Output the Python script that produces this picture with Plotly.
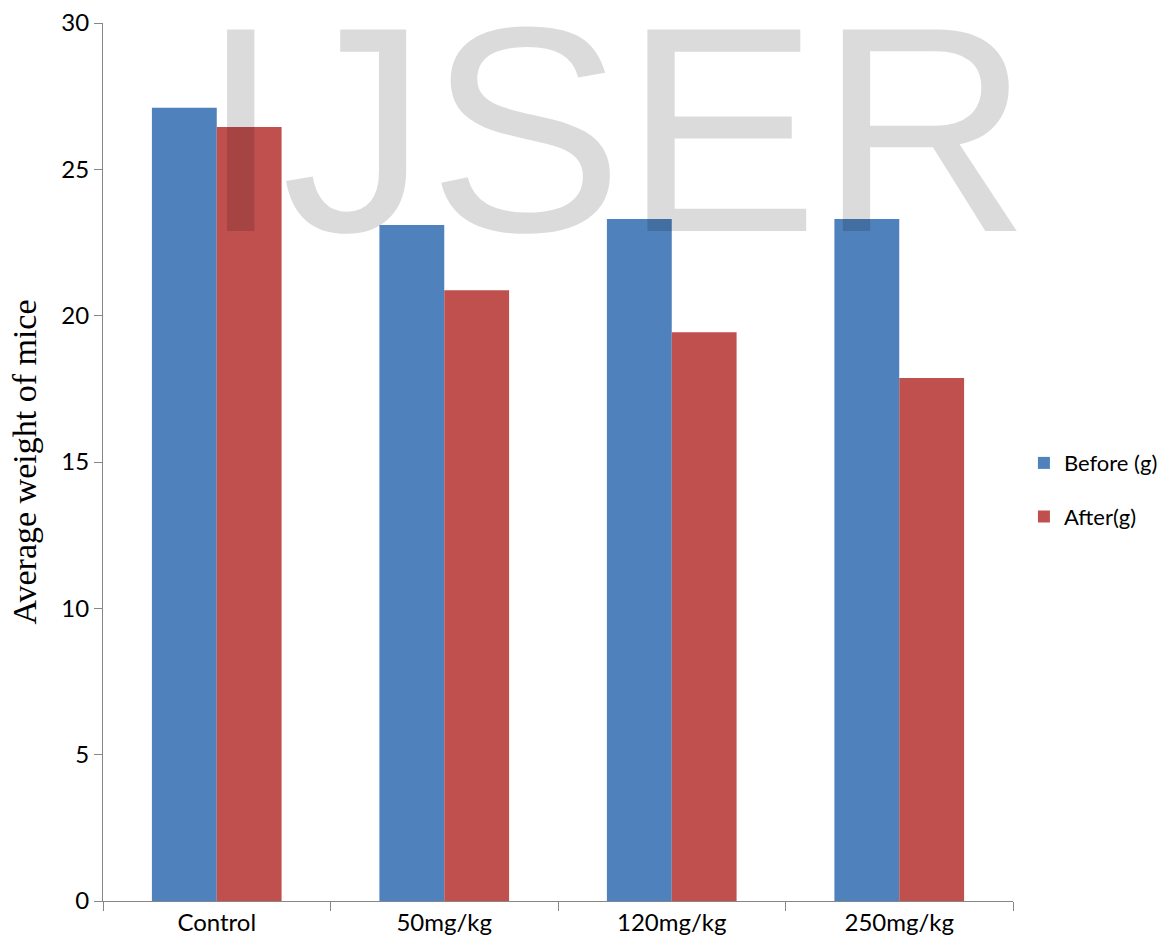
import plotly.graph_objects as go

categories = ["Control", "50mg/kg", "120mg/kg", "250mg/kg"]
before_g = [27.1, 23.1, 23.3, 23.3]
after_g = [26.45, 20.87, 19.43, 17.87]
y_ticks = [0, 5, 10, 15, 20, 25, 30]

tick_font = dict(family="Lato, Open Sans, sans-serif", size=24, color="#000000")

fig = go.Figure()
fig.add_trace(go.Bar(x=categories, y=before_g, name="Before (g)",
                     marker=dict(color="#4F81BD", line=dict(width=0)),
                     legendgroup="a"))
fig.add_trace(go.Bar(x=categories, y=after_g, name="After(g)",
                     marker=dict(color="#C0504D", line=dict(width=0)),
                     legendgroup="b"))

fig.update_layout(
    width=1172, height=951,
    margin=dict(l=103, r=159, t=23, b=50, autoexpand=False),
    paper_bgcolor="white", plot_bgcolor="white",
    barmode="group", bargap=0.43, bargroupgap=0,
    font=tick_font,
    legend=dict(x=1.012, y=0.468, xanchor="left", yanchor="middle",
                font=dict(family="Lato, Open Sans, sans-serif", size=22),
                tracegroupgap=22, itemwidth=30),
    xaxis=dict(showline=True, linecolor="#868686", linewidth=1,
               ticks="outside", tickson="boundaries", ticklen=9,
               tickcolor="#868686", showgrid=False, tickfont=tick_font),
    yaxis=dict(range=[0, 30], tickvals=y_ticks, showline=True,
               linecolor="#868686", linewidth=1, ticks="outside", ticklen=8,
               tickcolor="#868686", showgrid=False, zeroline=False,
               tickfont=tick_font,
               title=dict(text="Average weight of mice",
                          font=dict(family="Liberation Serif, Times New Roman, serif",
                                    size=34, color="#000000"),
                          standoff=14)),
    annotations=[dict(text="IJSER", xref="paper", yref="paper",
                      x=0.563, y=0.879, xanchor="center", yanchor="middle",
                      showarrow=False,
                      font=dict(family="Liberation Sans, Arial, sans-serif",
                                size=293, color="rgba(0,0,0,0.14)"))],
)

fig.write_html("out.html")
